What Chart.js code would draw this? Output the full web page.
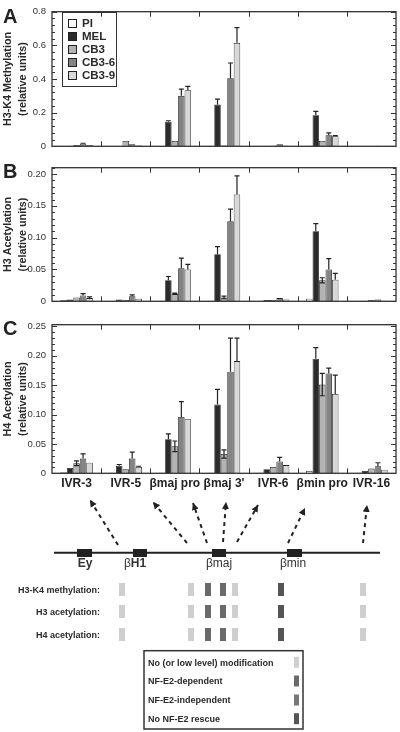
<!DOCTYPE html>
<html lang="en">
<head>
<meta charset="UTF-8">
<title>Histone modifications at the beta-globin locus</title>
<script src="https://cdn.jsdelivr.net/npm/chart.js"></script>
<style>
  body { margin: 0; background: #fff; width: 400px; height: 732px; position: relative; overflow: hidden;
         font-family: "Liberation Sans", Arial, sans-serif; color: #2a2a2a; }
  .panel { position: absolute; left: 0; }
  .letter { position: absolute; font-weight: bold; font-size: 20px; line-height: 20px; color: #222; }
  .legbox { position: absolute; left: 62px; top: 12px; width: 55px; height: 75px; border: 1.5px solid #333; box-sizing: border-box; }
  .sw { position: absolute; left: 68px; width: 9px; height: 9px; border: 1px solid #222; box-sizing: border-box; }
  .lt { position: absolute; left: 82px; font-size: 11.5px; font-weight: bold; line-height: 12px; color: #2a2a2a; }
  svg { position: absolute; left: 0; top: 488px; }
</style>
</head>
<body>

<div class="panel" style="top:0"><canvas id="chartA" width="400" height="158"></canvas></div>
<div class="panel" style="top:156px"><canvas id="chartB" width="400" height="157"></canvas></div>
<div class="panel" style="top:313px"><canvas id="chartC" width="400" height="181"></canvas></div>

<div class="letter" style="left:3px; top:6px">A</div>
<div class="letter" style="left:3px; top:161px">B</div>
<div class="letter" style="left:3px; top:318px">C</div>

<div class="legbox"></div>
<div id="legend"></div>

<svg width="400" height="244" viewBox="0 488 400 244" font-family="Liberation Sans, Arial, sans-serif">
  <defs>
    <marker id="ah" markerUnits="userSpaceOnUse" markerWidth="8" markerHeight="8" refX="7" refY="4" orient="auto">
      <path d="M0,0.5 L7,4 L0,7.5 z" fill="#222"/>
    </marker>
  </defs>
  <g stroke="#222" stroke-width="2" stroke-dasharray="4 4" marker-end="url(#ah)">
    <line x1="118" y1="545" x2="90" y2="500"/>
    <line x1="187" y1="543" x2="153" y2="502"/>
    <line x1="207" y1="543" x2="193" y2="503"/>
    <line x1="223" y1="542" x2="226" y2="502"/>
    <line x1="237" y1="542" x2="258" y2="505"/>
    <line x1="288" y1="543" x2="305" y2="508"/>
    <line x1="363" y1="543" x2="367" y2="505"/>
  </g>
  <line x1="54" y1="552.7" x2="380" y2="552.7" stroke="#222" stroke-width="2"/>
  <g fill="#222">
    <rect x="77" y="549" width="15" height="8"/>
    <rect x="133" y="549" width="14" height="8"/>
    <rect x="212" y="549" width="14" height="8"/>
    <rect x="287" y="549" width="15" height="8"/>
  </g>
  <g font-size="12" fill="#333" text-anchor="middle">
    <text x="85" y="567" font-weight="bold">Ey</text>
    <text x="135" y="567"><tspan>β</tspan><tspan font-weight="bold">H1</tspan></text>
    <text x="219" y="567">βmaj</text>
    <text x="293" y="567">βmin</text>
  </g>
  <g font-size="9" font-weight="bold" fill="#2a2a2a" text-anchor="end">
    <text x="100" y="593">H3-K4 methylation:</text>
    <text x="100" y="615">H3 acetylation:</text>
    <text x="100" y="638">H4 acetylation:</text>
  </g>
  <g id="marks"></g>
  <rect x="144" y="650.7" width="159" height="78.3" fill="none" stroke="#333" stroke-width="1.5"/>
  <g font-size="9" font-weight="bold" fill="#2a2a2a">
    <text x="148" y="665.5">No (or low level) modification</text>
    <text x="148" y="684.2">NF-E2-dependent</text>
    <text x="148" y="703.2">NF-E2-independent</text>
    <text x="148" y="722">No NF-E2 rescue</text>
  </g>
  <rect x="294" y="656.8" width="5" height="11" fill="#cfcfcf"/>
  <rect x="294" y="675.5" width="5" height="11" fill="#6a6a6a"/>
  <rect x="294" y="694.5" width="5" height="11" fill="#777"/>
  <rect x="294" y="713.2" width="5" height="11" fill="#555"/>
</svg>

<script>
const categories = ['IVR-3', 'IVR-5', 'βmaj pro', "βmaj 3'", 'IVR-6', 'βmin pro', 'IVR-16'];
const seriesNames = ['PI', 'MEL', 'CB3', 'CB3-6', 'CB3-9'];

// A: H3-K4 methylation
const methPI   = [0.001, 0.001, 0.002, 0.001, 0.001, 0.003, 0.001];
const methMEL  = [0.003, 0.002, 0.146, 0.249, 0.002, 0.185, 0.002];
const methCB3  = [0.008, 0.032, 0.032, 0.005, 0.004, 0.032, 0.002];
const methCB36 = [0.015, 0.012, 0.300, 0.405, 0.012, 0.066, 0.003];
const methCB39 = [0.008, 0.005, 0.333, 0.615, 0.004, 0.060, 0.002];
const methErrMEL  = [null, null, 0.152, 0.280, null, 0.207, null];
const methErrCB3  = [null, null, null, null, null, null, null];
const methErrCB36 = [0.018, null, 0.340, 0.495, null, 0.080, null];
const methErrCB39 = [null, null, 0.356, 0.705, null, 0.064, null];

// B: H3 acetylation
const h3PI   = [0.002, 0.001, 0.001, 0.001, 0.001, 0.004, 0.001];
const h3MEL  = [0.003, 0.003, 0.033, 0.074, 0.002, 0.110, 0.001];
const h3CB3  = [0.006, 0.002, 0.012, 0.006, 0.002, 0.033, 0.002];
const h3CB36 = [0.009, 0.008, 0.052, 0.126, 0.005, 0.050, 0.003];
const h3CB39 = [0.005, 0.004, 0.050, 0.168, 0.003, 0.034, 0.001];
const h3ErrMEL  = [null, null, 0.039, 0.086, null, 0.122, null];
const h3ErrCB3  = [null, null, 0.013, 0.008, null, 0.037, null];
const h3ErrCB36 = [0.012, 0.010, 0.068, 0.145, null, 0.067, null];
const h3ErrCB39 = [0.007, null, 0.058, 0.197, null, 0.044, null];

// C: H4 acetylation
const h4PI   = [0.002, 0.001, 0.001, 0.001, 0.001, 0.004, 0.001];
const h4MEL  = [0.009, 0.013, 0.058, 0.117, 0.007, 0.195, 0.004];
const h4CB3  = [0.017, 0.007, 0.046, 0.033, 0.011, 0.151, 0.008];
const h4CB36 = [0.025, 0.025, 0.096, 0.173, 0.020, 0.170, 0.012];
const h4CB39 = [0.018, 0.011, 0.092, 0.191, 0.014, 0.135, 0.006];
const h4ErrMEL  = [null, 0.015, 0.067, 0.143, null, 0.214, null];
const h4ErrCB3  = [0.021, null, 0.055, 0.040, null, 0.170, null];
const h4ErrCB36 = [0.033, 0.036, 0.122, 0.230, 0.027, 0.179, 0.018];
const h4ErrCB39 = [null, 0.012, null, 0.230, null, 0.167, null];

const tickValsA = [0, 0.2, 0.4, 0.6, 0.8];
const tickLabelsA = ['0', '0.2', '0.4', '0.6', '0.8'];
const tickValsB = [0, 0.05, 0.10, 0.15, 0.20];
const tickLabelsB = ['0', '0.05', '0.10', '0.15', '0.20'];
const tickValsC = [0, 0.05, 0.10, 0.15, 0.20, 0.25];
const tickLabelsC = ['0', '0.05', '0.10', '0.15', '0.20', '0.25'];

// status of each amplicon in the schematic: 0 none/low, 1 NF-E2-dependent, 2 NF-E2-independent, 3 no rescue
const statusMeth = [0, 0, 1, 1, 0, 3, 0];
const statusH3   = [0, 0, 1, 1, 0, 3, 0];
const statusH4   = [0, 0, 1, 1, 0, 3, 0];

const barColors = ['#ffffff', '#2b2b2b', '#b3b3b3', '#848484', '#d8d8d8'];
const statusColors = ['#cfcfcf', '#6a6a6a', '#777777', '#555555'];
const FONT = '"Liberation Sans", Arial, sans-serif';

// legend for panel A
var legendHtml = '';
var legTop = [23, 36, 49, 62, 75];
seriesNames.forEach(function (n, i) {
    legendHtml += '<div class="sw" style="top:' + (legTop[i] - 4.5) + 'px;background:' + barColors[i] + '"></div>';
    legendHtml += '<div class="lt" style="top:' + (legTop[i] - 6.5) + 'px">' + n + '</div>';
});
document.getElementById('legend').innerHTML = legendHtml;

// schematic marks
var siteX = [122, 191, 208, 223, 235, 281, 363];
var rowTop = [583, 605, 628];
var marks = '';
[statusMeth, statusH3, statusH4].forEach(function (row, r) {
    row.forEach(function (s, j) {
        marks += '<rect x="' + (siteX[j] - 3) + '" y="' + rowTop[r] + '" width="6" height="13" fill="' + statusColors[s] + '"/>';
    });
});
document.getElementById('marks').innerHTML = marks;

const framePlugin = {
    id: 'frame',
    afterDatasetsDraw(chart, args, opts) {
        const ctx = chart.ctx, a = chart.chartArea, xs = chart.scales.x, ys = chart.scales.y;
        ctx.save();
        ctx.strokeStyle = '#222';
        ctx.lineWidth = 1.2;
        chart.data.datasets.forEach(function (ds, i) {
            if (!ds.errHi) return;
            chart.getDatasetMeta(i).data.forEach(function (bar, j) {
                var e = ds.errHi[j];
                if (e == null) return;
                var top = ys.getPixelForValue(e);
                var low = ds.twoSided ? ys.getPixelForValue(Math.max(0, 2 * ds.data[j] - e)) : bar.y;
                ctx.beginPath();
                ctx.moveTo(bar.x, low);
                ctx.lineTo(bar.x, top);
                ctx.moveTo(bar.x - 2.5, top);
                ctx.lineTo(bar.x + 2.5, top);
                if (ds.twoSided) {
                    ctx.moveTo(bar.x - 2.5, low);
                    ctx.lineTo(bar.x + 2.5, low);
                }
                ctx.stroke();
            });
        });
        // box and inward ticks
        ctx.strokeStyle = '#333';
        ctx.lineWidth = 1.3;
        ctx.strokeRect(a.left, a.top, a.right - a.left, a.bottom - a.top);
        ctx.lineWidth = 1;
        ctx.beginPath();
        var n = Math.round(opts.max / opts.minor);
        for (var k = 0; k <= n; k++) {
            var py = Math.round(ys.getPixelForValue(k * opts.minor)) + 0.5;
            var len = (k % opts.majorEvery === 0) ? 5 : 3;
            ctx.moveTo(a.left, py); ctx.lineTo(a.left + len, py);
            ctx.moveTo(a.right, py); ctx.lineTo(a.right - len, py);
        }
        for (var j = 1; j < categories.length; j++) {
            var px = Math.round((xs.getPixelForValue(j - 1) + xs.getPixelForValue(j)) / 2) + 0.5;
            ctx.moveTo(px, a.top); ctx.lineTo(px, a.top + 5);
            ctx.moveTo(px, a.bottom); ctx.lineTo(px, a.bottom - 5);
        }
        ctx.stroke();
        ctx.restore();
    }
};

function makePanel(id, values, errs, cfg) {
    var datasets = seriesNames.map(function (name, i) {
        return {
            label: name,
            data: values[i],
            errHi: errs[i],
            twoSided: i === 2,
            backgroundColor: barColors[i],
            borderColor: '#222',
            borderWidth: 0.8,
            categoryPercentage: 0.66,
            barPercentage: 1.0
        };
    });
    return new Chart(document.getElementById(id), {
        type: 'bar',
        data: { labels: categories, datasets: datasets },
        plugins: [framePlugin],
        options: {
            responsive: false,
            animation: false,
            devicePixelRatio: 1,
            layout: { padding: { top: cfg.padTop, bottom: cfg.padBottom, left: 0, right: 4 } },
            plugins: {
                legend: { display: false },
                tooltip: { enabled: false },
                frame: { max: cfg.max, minor: cfg.minor, majorEvery: cfg.majorEvery }
            },
            scales: {
                x: {
                    grid: { display: false, drawTicks: false },
                    border: { display: false },
                    ticks: {
                        display: cfg.showX,
                        autoSkip: false,
                        maxRotation: 0,
                        padding: 3,
                        color: '#222',
                        font: { family: FONT, size: 12, weight: 'bold' }
                    },
                    afterFit: function (s) { s.height = cfg.xHeight; }
                },
                y: {
                    min: 0,
                    max: cfg.max,
                    grid: { display: false, drawTicks: false },
                    border: { display: false },
                    afterBuildTicks: function (s) {
                        s.ticks = cfg.tickVals.map(function (v) { return { value: v }; });
                    },
                    ticks: {
                        padding: 6,
                        color: '#333',
                        font: { family: FONT, size: 9.5 },
                        callback: function (v, i) { return cfg.tickLabels[i]; }
                    },
                    title: {
                        display: true,
                        text: cfg.title,
                        color: '#2a2a2a',
                        padding: { top: 1, bottom: 0 },
                        font: { family: FONT, size: 10.8, weight: 'bold', lineHeight: 1.35 }
                    },
                    afterFit: function (s) { s.width = 52; }
                }
            }
        }
    });
}

makePanel('chartA',
    [methPI, methMEL, methCB3, methCB36, methCB39],
    [null, methErrMEL, methErrCB3, methErrCB36, methErrCB39],
    { max: 0.8, minor: 0.04, majorEvery: 5, tickVals: tickValsA, tickLabels: tickLabelsA,
      title: ['H3-K4 Methylation', '(relative units)'], padTop: 5, padBottom: 4, xHeight: 0, showX: false });

makePanel('chartB',
    [h3PI, h3MEL, h3CB3, h3CB36, h3CB39],
    [null, h3ErrMEL, h3ErrCB3, h3ErrCB36, h3ErrCB39],
    { max: 0.21, minor: 0.01, majorEvery: 5, tickVals: tickValsB, tickLabels: tickLabelsB,
      title: ['H3 Acetylation', '(relative units)'], padTop: 5.7, padBottom: 3.7, xHeight: 0, showX: false });

makePanel('chartC',
    [h4PI, h4MEL, h4CB3, h4CB36, h4CB39],
    [null, h4ErrMEL, h4ErrCB3, h4ErrCB36, h4ErrCB39],
    { max: 0.253, minor: 0.01, majorEvery: 5, tickVals: tickValsC, tickLabels: tickLabelsC,
      title: ['H4 Acetylation', '(relative units)'], padTop: 5.3, padBottom: 0, xHeight: 20.7, showX: true });
</script>
</body>
</html>
